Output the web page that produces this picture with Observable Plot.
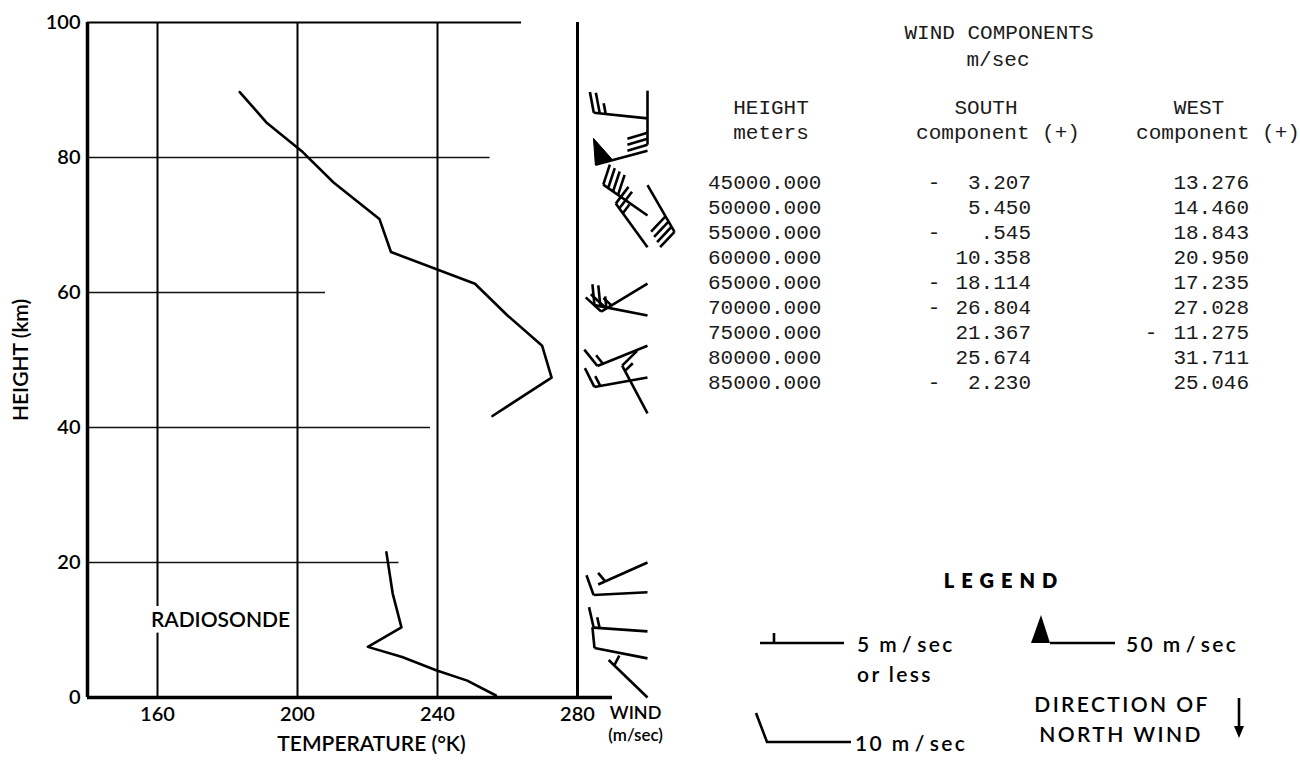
<!DOCTYPE html>
<html><head><meta charset="utf-8">
<script src="https://cdn.jsdelivr.net/npm/d3@7"></script>
<script src="https://cdn.jsdelivr.net/npm/@observablehq/plot@0.6"></script>
<style>
body{margin:0;background:#fff;}
#wrap{position:relative;width:1300px;height:763px;overflow:hidden;font-family:Lato,"DejaVu Sans",sans-serif;color:#000;}
#chart{position:absolute;left:0;top:0;}
.tw{position:absolute;font-family:"Liberation Mono","DejaVu Sans Mono",monospace;font-size:21px;color:#1a1a1a;white-space:pre;line-height:1;}
.lg{position:absolute;font-family:Lato,"DejaVu Sans",sans-serif;font-size:21px;font-weight:600;letter-spacing:2.4px;white-space:pre;line-height:1;}
</style></head><body><div id="wrap"><div id="chart"></div></div>
<script>
// ---- temperature profiles (K, km) ----
const rocketTemp   = [183.5, 191.1, 201.5, 210.3, 223.4, 226.7, 250.7, 260.0, 269.9, 272.6, 255.7];
const rocketHeight = [89.7, 85.2, 80.8, 76.3, 70.9, 66.0, 61.3, 56.6, 52.1, 47.4, 41.7];
const sondeTemp    = [225.4, 227.2, 229.7, 220.1, 229.9, 239.8, 248.5, 256.7];
const sondeHeight  = [21.5, 15.4, 10.4, 7.5, 6.0, 4.0, 2.5, 0.3];

// ---- axis ticks / grid ----
const tempTicks   = [160, 200, 240, 280];
const heightTicks = [0, 20, 40, 60, 80, 100];
const gridHeights = [20, 40, 60, 80, 100];
const gridEnds    = [229, 238, 208, 255, 264];   // where each hand-drawn grid line stops (K)

// ---- wind barbs ----
const barbHeight  = [0, 5.8, 9.8, 15.6, 20, 42.1, 47.4, 52.1, 56.6, 61.3, 66.7, 71.4, 75.9, 81.0, 85.8, 89.9];
const barbBearing = [314, 281, 274, 267, 246, 332, 260, 248, 281, 239, 324, 305, 150, 255, 276, 180];
const barbSpeed   = [5, 10, 15, 10, 5, 15, 15, 15, 25, 25, 25, 40, 40, 50, 25, 30];

// ---- wind component table ----
const tableHeight = [45000, 50000, 55000, 60000, 65000, 70000, 75000, 80000, 85000];
const tableSouth  = [-3.207, 5.450, -0.545, 10.358, -18.114, -26.804, 21.367, 25.674, -2.230];
const tableWest   = [13.276, 14.460, 18.843, 20.950, 17.235, 27.028, -11.275, 31.711, 25.046];

// ---- layout ----
const W = 700, H = 763, ML = 87, MR = 53, MT = 22, MB = 66;
const X0 = 140, X1 = 300, Y0 = 0, Y1 = 100;
const kx = (W - ML - MR) / (X1 - X0), ky = (H - MT - MB) / (Y1 - Y0);
const STATION = 300;

// build barb geometry in data units
const STAFF = 54, FULL = 21, HALF = 11, GAP = 6;
const segs = [], flags = [];
barbHeight.forEach((h, i) => {
  const b = barbBearing[i] * Math.PI / 180;
  const u = [Math.sin(b), -Math.cos(b)];
  const n = [-u[1], u[0]];
  let f = [n[0] + 0.3 * u[0], n[1] + 0.3 * u[1]];
  const fl = Math.hypot(f[0], f[1]); f = [f[0] / fl, f[1] / fl];
  const P = (px, py) => ({x: STATION + px / kx, y: h - py / ky});
  const add = (a, c) => { const A = P(a[0], a[1]), C = P(c[0], c[1]); segs.push({x1: A.x, y1: A.y, x2: C.x, y2: C.y}); };
  add([0, 0], [STAFF * u[0], STAFF * u[1]]);
  let sp = barbSpeed[i];
  const nf = Math.floor(sp / 50); sp -= 50 * nf;
  const nF = Math.floor(sp / 10); sp -= 10 * nF;
  const nH = sp >= 5 ? 1 : 0;
  let t = STAFF;
  for (let k = 0; k < nf; k++) {
    const T = [t * u[0], t * u[1]];
    const pts = [T, [T[0] - 5 * u[0] + 26 * n[0], T[1] - 5 * u[1] + 26 * n[1]], [T[0] - 18 * u[0], T[1] - 18 * u[1]]];
    pts.forEach(p => flags.push({id: i + "-" + k, ...P(p[0], p[1])}));
    t -= 22;
  }
  for (let k = 0; k < nF; k++) {
    add([t * u[0], t * u[1]], [t * u[0] + FULL * f[0], t * u[1] + FULL * f[1]]);
    t -= GAP;
  }
  if (nH) {
    if (nF === 0 && nf === 0) t -= GAP * 1.3;
    add([t * u[0], t * u[1]], [t * u[0] + HALF * f[0], t * u[1] + HALF * f[1]]);
  }
});

const rocket = rocketTemp.map((t, i) => ({t, h: rocketHeight[i]}));
const sonde = sondeTemp.map((t, i) => ({t, h: sondeHeight[i]}));
const grid = gridHeights.map((h, i) => ({h, x2: gridEnds[i]}));

const FONT = "Lato, 'DejaVu Sans', sans-serif";
const chart = Plot.plot({
  width: W, height: H,
  marginLeft: ML, marginRight: MR, marginTop: MT, marginBottom: MB,
  x: {domain: [X0, X1]},
  y: {domain: [Y0, Y1]},
  style: {fontFamily: FONT, background: "white", overflow: "visible"},
  marks: [
    Plot.ruleY(grid.filter(d => d.h < 100), {y: "h", x1: X0, x2: "x2", stroke: "#111", strokeWidth: 1.3}),
    Plot.ruleY(grid.filter(d => d.h === 100), {y: "h", x1: X0, x2: "x2", stroke: "#000", strokeWidth: 2.2}),
    Plot.ruleX(tempTicks.filter(d => d < 280), {y1: Y0, y2: Y1, stroke: "#000", strokeWidth: 2}),
    Plot.text(["RADIOSONDE"], {x: 178, y: 11.4, fontSize: 21, fontWeight: 600, fill: "#000", stroke: "white", strokeWidth: 12, paintOrder: "stroke"}),
    Plot.ruleX([280], {y1: Y0, y2: Y1, stroke: "#000", strokeWidth: 3}),
    Plot.ruleX([X0], {y1: Y0, y2: Y1, stroke: "#000", strokeWidth: 3.5}),
    Plot.ruleY([0], {x1: X0, x2: 290, stroke: "#000", strokeWidth: 3.5}),
    Plot.line(rocket, {x: "t", y: "h", stroke: "#000", strokeWidth: 2.6}),
    Plot.line(sonde, {x: "t", y: "h", stroke: "#000", strokeWidth: 2.6}),
    Plot.link(segs, {x1: "x1", y1: "y1", x2: "x2", y2: "y2", stroke: "#000", strokeWidth: 2.6}),
    Plot.line(flags, {x: "x", y: "y", z: "id", fill: "#000", stroke: "#000", strokeWidth: 1}),
    Plot.axisY({ticks: heightTicks, tickSize: 0, tickPadding: 7, fontSize: 20, fontWeight: 600, label: null}),
    Plot.axisX({ticks: tempTicks, tickSize: 0, tickPadding: 9, fontSize: 20, fontWeight: 600, label: null}),
    Plot.text(["TEMPERATURE (°K)"], {frameAnchor: "bottom", dx: 4, dy: 53, fontSize: 21, fontWeight: 600}),
    Plot.text(["HEIGHT (km)"], {frameAnchor: "left", dx: -66, rotate: -90, textAnchor: "middle", fontSize: 21, fontWeight: 600}),
    Plot.text(["WIND"], {x: 296.6, frameAnchor: "bottom", dy: 21, fontSize: 18, fontWeight: 600}),
    Plot.text(["(m/sec)"], {x: 296.6, frameAnchor: "bottom", dy: 43, fontSize: 17, fontWeight: 600})
  ]
});
document.getElementById("chart").appendChild(chart);

// ---- table (HTML) ----
const wrap = document.getElementById("wrap");
function put(cls, text, x, y, anchor) {
  const d = document.createElement("div");
  d.className = cls; d.textContent = text;
  d.style.left = x + "px"; d.style.top = y + "px";
  d.style.transform = anchor === "middle" ? "translate(-50%,-50%)" : anchor === "end" ? "translate(-100%,-50%)" : "translate(0,-50%)";
  wrap.appendChild(d); return d;
}
const fmt = v => Math.abs(v).toFixed(3).replace(/^0\./, ".");
put("tw", "WIND COMPONENTS", 999, 33, "middle");
put("tw", "m/sec", 998, 60, "middle");
put("tw", "HEIGHT", 771, 108, "middle");
put("tw", "meters", 771, 133, "middle");
put("tw", "SOUTH", 986, 108, "middle");
put("tw", "component (+)", 998, 133, "middle");
put("tw", "WEST", 1199, 108, "middle");
put("tw", "component (+)", 1218, 133, "middle");
tableHeight.forEach((h, i) => {
  const y = 183 + 25 * i;
  put("tw", h.toFixed(3), 708, y, "start");
  put("tw", fmt(tableSouth[i]), 1031, y, "end");
  if (tableSouth[i] < 0) put("tw", "-", 934, y, "middle");
  put("tw", fmt(tableWest[i]), 1249, y, "end");
  if (tableWest[i] < 0) put("tw", "-", 1151, y, "middle");
});

// ---- legend ----
const lt = put("lg", "LEGEND", 1004, 580, "middle");
lt.style.fontWeight = "800"; lt.style.letterSpacing = "7px"; lt.style.fontSize = "20px";
function mps(n, x, y) {
  const d = put("lg", "", x, y, "start");
  d.innerHTML = n + " m<span style=\"margin:0 3px\">/</span>sec";
}
mps("5", 857, 643);
put("lg", "or less", 857, 673, "start");
mps("10", 855, 742);
mps("50", 1126, 643);
put("lg", "DIRECTION OF", 1122, 703, "middle");
put("lg", "NORTH WIND", 1121, 733, "middle");
const ns = "http://www.w3.org/2000/svg";
const lsvg = document.createElementNS(ns, "svg");
lsvg.setAttribute("width", 560); lsvg.setAttribute("height", 180);
lsvg.style.position = "absolute"; lsvg.style.left = "740px"; lsvg.style.top = "580px";
lsvg.innerHTML = `
 <g stroke="#000" stroke-width="2.6" fill="none">
  <line x1="20" y1="63" x2="104" y2="63"/>
  <line x1="34" y1="63" x2="34" y2="53"/>
  <polyline points="16,133 27,162 111,162"/>
  <line x1="310" y1="63" x2="375" y2="63"/>
  <line x1="499" y1="118" x2="499" y2="150"/>
 </g>
 <polygon points="291,63 310,63 301,35" fill="#000"/>
 <polygon points="494,146 504,146 499,158" fill="#000"/>`;
wrap.appendChild(lsvg);
</script></body></html>
